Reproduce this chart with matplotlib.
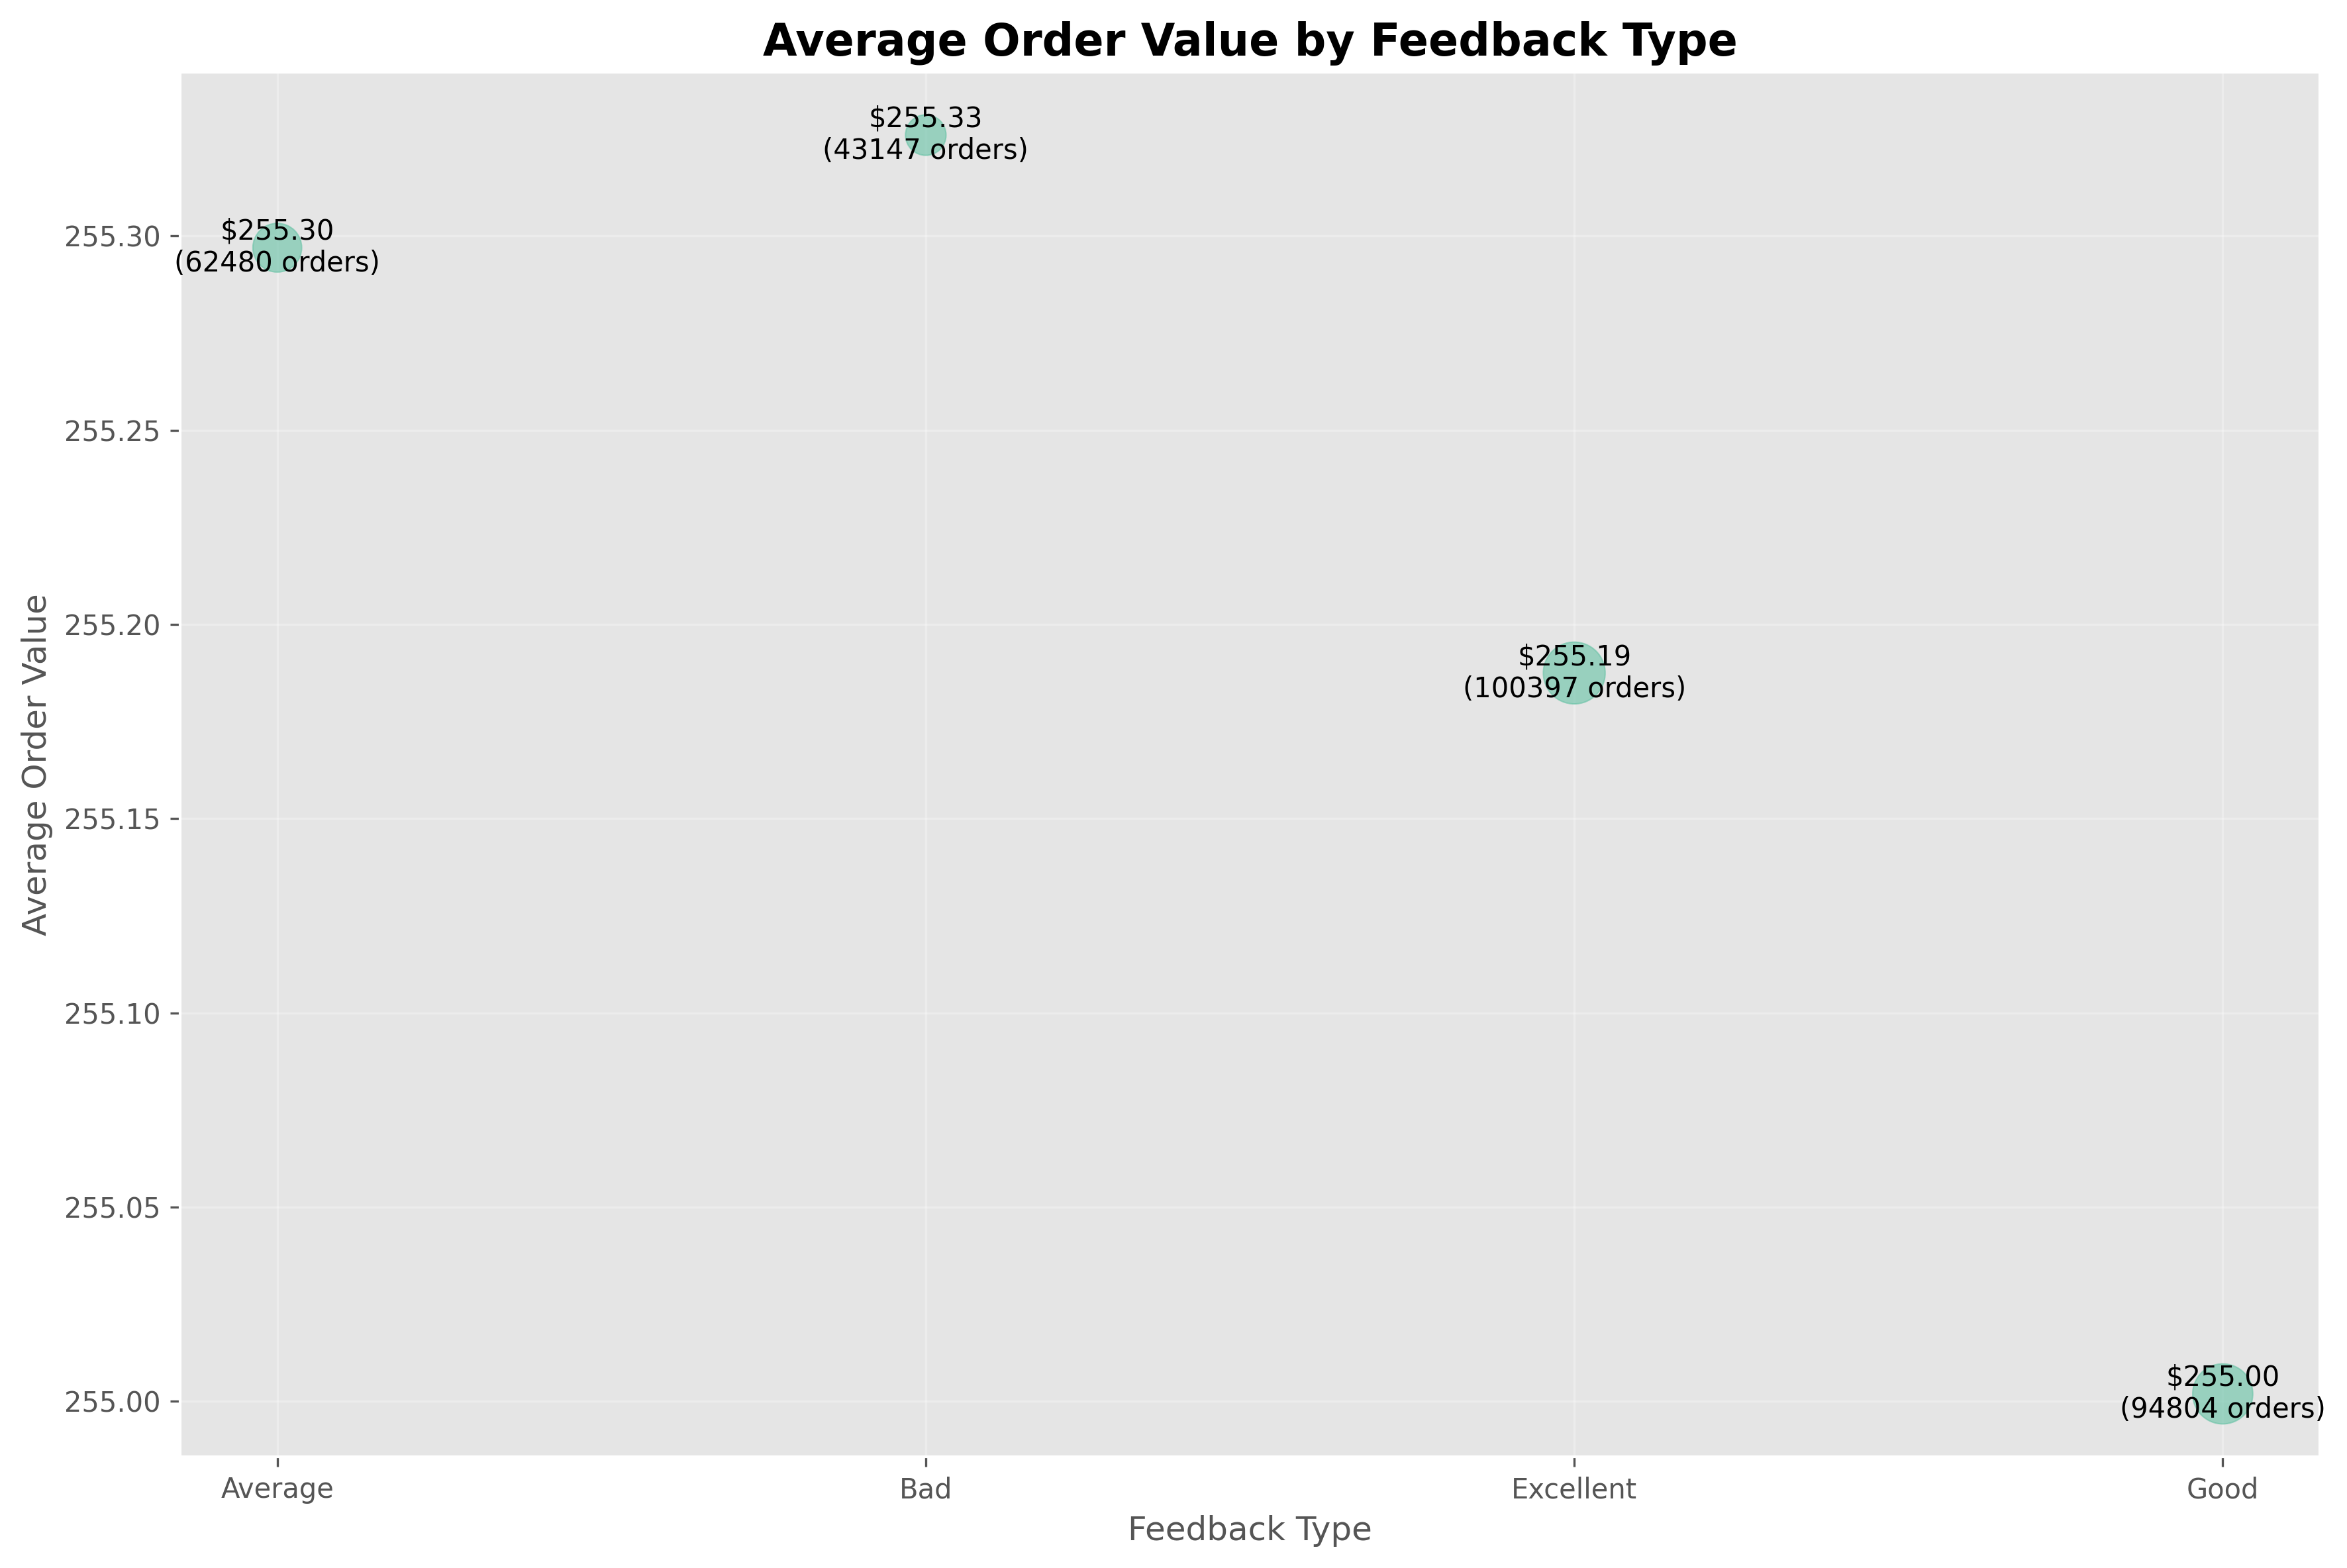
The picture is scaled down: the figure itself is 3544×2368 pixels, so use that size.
import matplotlib
matplotlib.use("Agg")
import matplotlib.pyplot as plt
import pandas as pd

plt.style.use("ggplot")

# values
feedback = ["Average", "Bad", "Excellent", "Good"]
avg_value = [255.297, 255.326, 255.1875, 255.0019]
order_count = [62480, 43147, 100397, 94804]

df = pd.DataFrame({"feedback": feedback, "avg": avg_value, "orders": order_count})

fig, ax = plt.subplots(figsize=(3544 / 300, 2368 / 300))
fig.subplots_adjust(left=0.0767, right=0.9885, top=0.954, bottom=0.0709)

ax.scatter(df["feedback"], df["avg"], s=df["orders"] / 200, color="#66c2a5", alpha=0.6)

for i, row in df.iterrows():
    ax.text(i, row["avg"], f"${row['avg']:.2f}\n({row['orders']} orders)",
            ha="center", va="center", fontsize=10, color="black")

ax.set_title("Average Order Value by Feedback Type", fontsize=16, fontweight="bold", color="black")
ax.set_xlabel("Feedback Type")
ax.set_ylabel("Average Order Value")
ax.grid(True, alpha=0.3)
ax.yaxis.set_major_formatter(matplotlib.ticker.FormatStrFormatter("%.2f"))

fig.savefig("out.png", dpi=300)
